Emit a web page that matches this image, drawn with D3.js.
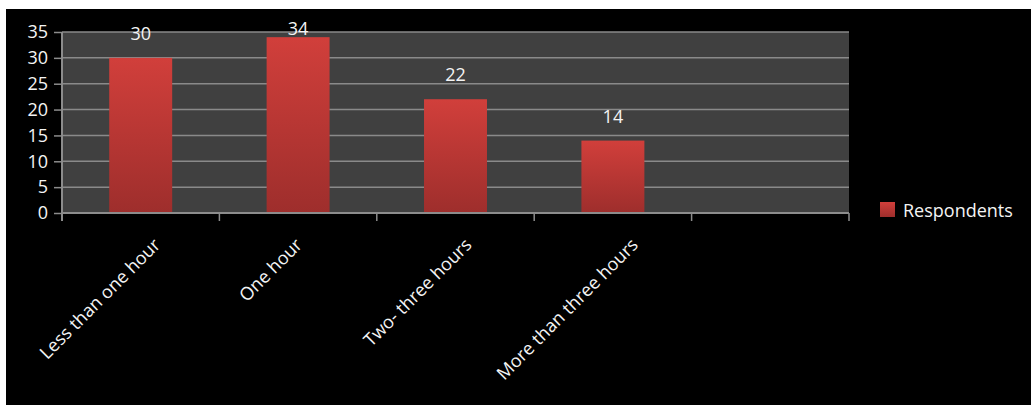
<!DOCTYPE html>
<html>
<head>
<meta charset="utf-8">
<script src="https://cdn.jsdelivr.net/npm/d3@7"></script>
<style>
  body { margin: 0; background: #ffffff; }
  svg { display: block; margin: 9px 0 0 6px; background: #000000; }
  text { font-family: "Open Sans", sans-serif; fill: #f4f4f4; }
</style>
</head>
<body>
<script>
const categories = ["Less than one hour", "One hour", "Two- three hours", "More than three hours", ""];
const respondents = [30, 34, 22, 14, null];
const yTicks = [0, 5, 10, 15, 20, 25, 30, 35];
const seriesName = "Respondents";

const svgWidth = 1025;
const svgHeight = 396;
const margin = {top: 23, right: 182, bottom: 192, left: 56};
const width = svgWidth - margin.left - margin.right;
const height = svgHeight - margin.top - margin.bottom;
const fontSize = "18px";

const svg = d3.select("body")
  .append("svg")
  .attr("width", svgWidth)
  .attr("height", svgHeight)

// bar gradient
const grad = svg.append("defs")
  .append("linearGradient")
  .attr("id", "barGrad")
  .attr("x1", 0).attr("y1", 0)
  .attr("x2", 0).attr("y2", 1)
grad.append("stop").attr("offset", "0%").attr("stop-color", "#d13f3b")
grad.append("stop").attr("offset", "100%").attr("stop-color", "#9e2e2c")

const chartGroup = svg.append("g")
  .attr("transform", `translate(${margin.left}, ${margin.top})`)

const xScale = d3.scaleBand()
  .domain(categories.map((c, i) => i))
  .range([0, width])
  .paddingInner(0)

const yScale = d3.scaleLinear()
  .domain([0, 35])
  .range([height, 0]);

// plot background
chartGroup.append("rect")
  .attr("x", 0)
  .attr("y", 0)
  .attr("width", width)
  .attr("height", height)
  .attr("fill", "#404040")

// gridlines
chartGroup.append("g")
  .selectAll("line")
  .data(yTicks.filter(t => t > 0))
  .join("line")
  .attr("x1", 0)
  .attr("x2", width)
  .attr("y1", d => yScale(d))
  .attr("y2", d => yScale(d))
  .attr("stroke", "#8a8a8a")
  .attr("stroke-width", 1.5)

// bars
const barW = xScale.bandwidth() * 0.4;
const barData = respondents.map((v, i) => ({v, i})).filter(d => d.v != null);
chartGroup.append("g")
  .selectAll("rect")
  .data(barData)
  .join("rect")
  .attr("x", d => xScale(d.i) + (xScale.bandwidth() - barW) / 2)
  .attr("y", d => yScale(d.v))
  .attr("width", barW)
  .attr("height", d => height - yScale(d.v))
  .attr("fill", "url(#barGrad)")

// value labels (kept inside the chart when the bar is near the top)
chartGroup.append("g")
  .selectAll("text")
  .data(barData)
  .join("text")
  .attr("x", d => xScale(d.i) + xScale.bandwidth() / 2)
  .attr("y", d => Math.max(yScale(d.v) - 18, 3))
  .attr("text-anchor", "middle")
  .attr("font-size", fontSize)
  .text(d => d.v)

// y axis
const yAxis = d3.axisLeft(yScale)
  .tickValues(yTicks)
  .tickSize(8)
  .tickPadding(6)
const yG = chartGroup.append("g")
  .attr("class", "axis y")
  .call(yAxis)
yG.select(".domain").remove()
yG.selectAll("line").attr("stroke", "#8c8c8c").attr("stroke-width", 1.5)
yG.selectAll("text").attr("font-size", fontSize).attr("fill", "#f4f4f4")
  .attr("font-family", "Open Sans, sans-serif")
chartGroup.append("line")
  .attr("x1", 0).attr("x2", 0)
  .attr("y1", 0).attr("y2", height + 8)
  .attr("stroke", "#8c8c8c")
  .attr("stroke-width", 2)

// x axis
chartGroup.append("line")
  .attr("x1", 0).attr("x2", width)
  .attr("y1", height).attr("y2", height)
  .attr("stroke", "#8c8c8c")
  .attr("stroke-width", 2)
chartGroup.append("g")
  .selectAll("line")
  .data(d3.range(categories.length + 1))
  .join("line")
  .attr("x1", i => i * xScale.step())
  .attr("x2", i => i * xScale.step())
  .attr("y1", height)
  .attr("y2", height + 8)
  .attr("stroke", "#8c8c8c")
  .attr("stroke-width", 1.5)

// rotated category labels
const xLabels = chartGroup.append("g")
  .selectAll("text")
  .data(categories.map((c, i) => ({c, i})).filter(d => d.c !== ""))
  .join("text")
  .attr("text-anchor", "end")
  .attr("font-size", fontSize)
  .text(d => d.c)
xLabels.each(function(d) {
  const len = this.getComputedTextLength();
  const px = xScale(d.i) + xScale.bandwidth() / 2 + 0.19 * len - 10;
  const py = height + 33;
  d3.select(this).attr("transform", `translate(${px}, ${py}) rotate(-45)`)
})

// legend
const legend = svg.append("g")
  .attr("transform", `translate(${margin.left + width + 31}, 193)`)
legend.append("rect")
  .attr("width", 15)
  .attr("height", 15)
  .attr("fill", "url(#barGrad)")
legend.append("text")
  .attr("x", 23)
  .attr("y", 15)
  .attr("font-size", fontSize)
  .text(seriesName)
</script>
</body>
</html>
